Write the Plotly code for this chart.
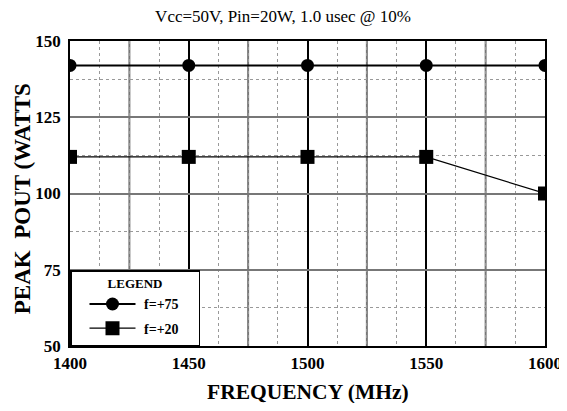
import plotly.graph_objects as go

freq = [1400, 1450, 1500, 1550, 1600]
f75 = [142, 142, 142, 142, 142]
f20 = [112, 112, 112, 112, 100]
x_ticks = [1400, 1450, 1500, 1550, 1600]
y_ticks = [50, 75, 100, 125, 150]
series_names = ["f=+75", "f=+20"]

FONT = "Liberation Serif"
PAD_L = "&nbsp;"
PAD_R = "&nbsp;" * 4

fig = go.Figure()
fig.add_trace(go.Scatter(x=freq, y=f75, mode="lines+markers",
                         name=PAD_L + series_names[0] + PAD_R,
                         legendgroup="a",
                         line=dict(color="black", width=2),
                         marker=dict(symbol="circle", size=13, color="black")))
fig.add_trace(go.Scatter(x=freq, y=f20, mode="lines+markers",
                         name=PAD_L + series_names[1] + PAD_R,
                         legendgroup="b",
                         line=dict(color="black", width=1.2),
                         marker=dict(symbol="square", size=14, color="black")))

shapes = []
for xv in [1425, 1475, 1525, 1575]:
    shapes.append(dict(type="line", xref="x", yref="y", x0=xv, x1=xv, y0=50, y1=150,
                       line=dict(color="#777777", width=2), layer="below"))

W, H = 559, 395
fig.update_layout(
    width=W, height=H,
    margin=dict(l=62, r=22, t=33, b=57),
    paper_bgcolor="white", plot_bgcolor="white",
    font=dict(family=FONT, color="black"),
    title=dict(text="Vcc=50V, Pin=20W, 1.0 usec @ 10%", x=0.492, xanchor="center",
               y=1 - 2.5 / H, yanchor="top", font=dict(size=17, family=FONT)),
    shapes=shapes,
    annotations=[
        dict(text="<b>FREQUENCY (MHz)</b>", xref="paper", yref="paper", x=0.5, y=-0.151,
             xanchor="center", yanchor="middle", showarrow=False,
             font=dict(size=21.5, family=FONT)),
        dict(text="<b>PEAK  POUT (WATTS</b>", xref="paper", yref="paper", x=-0.1, y=0.483,
             xanchor="center", yanchor="middle", showarrow=False, textangle=-90,
             font=dict(size=23, family=FONT)),
    ],
    xaxis=dict(range=[1400, 1600], tickvals=x_ticks, ticks="", showgrid=True,
               gridcolor="black", gridwidth=1.5, automargin=False,
               minor=dict(dtick=12.5, tick0=1400, showgrid=True, gridcolor="#999999",
                          griddash="dot", gridwidth=1),
               showline=True, linecolor="black", linewidth=1.5, mirror=True,
               tickfont=dict(size=17, family=FONT, weight="bold"), ticklabelstandoff=1,
               zeroline=False),
    yaxis=dict(range=[50, 150], tickvals=y_ticks, ticks="", showgrid=True,
               gridcolor="#777777", gridwidth=1.5, automargin=False,
               minor=dict(dtick=12.5, tick0=50, showgrid=True, gridcolor="#999999",
                          griddash="dot", gridwidth=1),
               showline=True, linecolor="black", linewidth=1.5, mirror=True,
               tickfont=dict(size=17, family=FONT, weight="bold"), ticklabelstandoff=4,
               zeroline=False),
    legend=dict(x=0.0, y=0.0, xanchor="left", yanchor="bottom",
                bgcolor="white", bordercolor="black", borderwidth=1.5,
                title=dict(text="<b>LEGEND</b>", side="top center", font=dict(size=13, family=FONT)),
                font=dict(size=14, family=FONT, weight="bold"), tracegroupgap=3,
                itemwidth=46, indentation=13),
    showlegend=True,
)
fig.write_html("out.html")
